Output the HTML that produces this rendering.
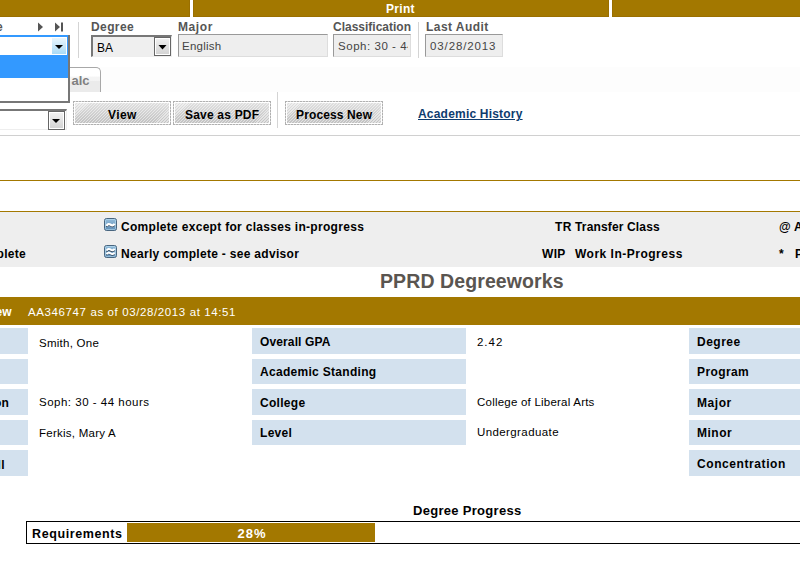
<!DOCTYPE html>
<html><head><meta charset="utf-8">
<style>
*{margin:0;padding:0;box-sizing:border-box}
html,body{width:800px;height:564px;overflow:hidden;background:#fff;font-family:"Liberation Sans",sans-serif;position:relative}
.a{position:absolute;white-space:nowrap}
.gold{background:#a37800}
.lbl{font-weight:bold;color:#555;font-size:12px;line-height:14px;letter-spacing:0.2px}
.inp{background:#eeeeee;border-top:1px solid #999;border-left:1px solid #999;border-right:1px solid #ddd;border-bottom:1px solid #ddd;overflow:hidden}
.it{font-size:12px;color:#444;line-height:14px}
.btn{padding:2px;background:repeating-linear-gradient(90deg,#b0b0b0 0 2px,#dadada 2px 3px) left top/100% 1px no-repeat,repeating-linear-gradient(90deg,#b0b0b0 0 2px,#dadada 2px 3px) left bottom/100% 1px no-repeat,repeating-linear-gradient(180deg,#b0b0b0 0 2px,#dadada 2px 3px) left top/1px 100% no-repeat,repeating-linear-gradient(180deg,#b0b0b0 0 2px,#dadada 2px 3px) right top/1px 100% no-repeat,#fff}
.btn>div{width:100%;height:100%;background:repeating-linear-gradient(135deg,rgba(255,255,255,.5) 0 0.8px,rgba(255,255,255,0) 0.8px 2.1px),linear-gradient(#e0e0e0,#c2c2c2)}
.bt{font-weight:bold;font-size:12px;color:#000;line-height:14px;letter-spacing:0.25px}
.cell{background:#d3e1ee}
.ct{font-weight:bold;font-size:12px;color:#000;line-height:14px;letter-spacing:0.3px}
.vt{font-size:12px;color:#000;line-height:14px}
.dd{border:1px solid #666;background:linear-gradient(#f2f2f2,#d2d2d2);box-shadow:inset 0 0 0 1px #fff}
</style></head><body>
<!-- top bar -->
<div class="a gold" style="left:0;top:0;width:190px;height:17px;border-right:1px solid #9a6f00;border-bottom:1px solid #9a6f00"></div>
<div class="a gold" style="left:193px;top:0;width:416px;height:17px;border:1px solid #9a6f00;border-top:none"></div>
<div class="a gold" style="left:612px;top:0;width:188px;height:17px;border-left:1px solid #9a6f00;border-bottom:1px solid #9a6f00"></div>
<div class="a" style="left:0;top:67px;width:800px;height:25px;background:#fdfdfd"></div>
<div class="a" style="left:386px;top:2px;font-weight:bold;font-size:12px;color:#fff;line-height:14px;letter-spacing:0.3px">Print</div>

<!-- row 2 labels -->
<div class="a lbl" style="left:-4px;top:20px">e</div>
<svg class="a" style="left:37px;top:21.5px" width="28" height="10"><path d="M1 0.5L6 5 1 9.5Z" fill="#555"/><path d="M18 0.5L23 5 18 9.5Z" fill="#555"/><rect x="24" y="0.5" width="2" height="9" fill="#555"/></svg>
<div class="a" style="left:78px;top:22px;width:1px;height:36px;background:#d4d4d4"></div>
<div class="a lbl" style="left:91px;top:20px;letter-spacing:0.4px">Degree</div>
<div class="a" style="left:91px;top:35px;width:81px;height:22px;background:#efefef;border-top:2px solid #777;border-left:2px solid #777;border-right:1px solid #eee;border-bottom:1px solid #eee"></div>
<div class="a" style="left:97px;top:41px;font-size:12px;color:#000;line-height:14px">BA</div>
<div class="a dd" style="left:154px;top:37px;width:17px;height:19px"></div>
<svg class="a" style="left:158px;top:45px" width="9" height="5"><path d="M0.5 0H8.5L4.5 4.5Z" fill="#000"/></svg>
<div class="a lbl" style="left:178px;top:20px;letter-spacing:0.6px">Major</div>
<div class="a inp" style="left:178px;top:34px;width:150px;height:23px"><div class="a it" style="left:3px;top:4px;font-size:11.5px;letter-spacing:0.25px">English</div></div>
<div class="a lbl" style="left:333px;top:20px;letter-spacing:0px">Classification</div>
<div class="a inp" style="left:333px;top:34px;width:78px;height:23px"><div class="a" style="left:0;top:0;width:74px;height:21px;overflow:hidden"><div class="a it" style="left:4px;top:4px;font-size:11.5px;letter-spacing:0.54px">Soph: 30 - 44 hours</div></div></div>
<div class="a" style="left:418px;top:22px;width:1px;height:36px;background:#d4d4d4"></div>
<div class="a lbl" style="left:426px;top:20px;letter-spacing:0.45px">Last Audit</div>
<div class="a inp" style="left:425px;top:34px;width:78px;height:23px"><div class="a it" style="left:4px;top:4px;font-size:11.5px;letter-spacing:0.88px">03/28/2013</div></div>

<!-- tab -->
<div class="a" style="left:60px;top:67px;width:41px;height:25px;border:1px solid #a8a8a8;border-bottom:none;border-top-right-radius:5px;background:linear-gradient(#ffffff 0,#ffffff 35%,#f4f4f4 36%,#f4f4f4 52%,#ebebeb 53%,#ebebeb 100%)"></div>
<div class="a" style="left:71.5px;top:73px;font-weight:bold;font-size:13px;color:#808080;line-height:16px">alc</div>

<!-- open combo -->
<div class="a" style="left:0;top:35px;width:70px;height:68px;background:#fff;border-right:2px solid #777;border-bottom:2px solid #777"></div>
<div class="a" style="left:0;top:35px;width:68px;height:2px;background:#3399ff"></div>
<div class="a" style="left:67px;top:35px;width:1px;height:20px;background:#3399ff"></div>
<div class="a" style="left:52px;top:38px;width:14px;height:16px;background:linear-gradient(#eaf6fd,#a9daf6)"></div>
<svg class="a" style="left:55px;top:45px" width="9" height="5"><path d="M0 0H8L4 4Z" fill="#000"/></svg>
<div class="a" style="left:0;top:55px;width:68px;height:23px;background:#3399ff"></div>

<!-- second select -->
<div class="a" style="left:0;top:109px;width:67px;height:21px;background:#fff;border-top:2px solid #777;border-right:1px solid #eee;border-bottom:1px solid #eee"></div>
<div class="a dd" style="left:48px;top:111px;width:17px;height:19px"></div>
<svg class="a" style="left:52px;top:119px" width="9" height="5"><path d="M0 0H8L4 4Z" fill="#000"/></svg>

<!-- buttons -->
<div class="a btn" style="left:73px;top:101px;width:98px;height:24px"><div></div></div>
<div class="a bt" style="left:108px;top:108px;letter-spacing:0.4px">View</div>
<div class="a btn" style="left:173px;top:101px;width:98px;height:24px"><div></div></div>
<div class="a bt" style="left:185px;top:108px;letter-spacing:0.2px">Save as PDF</div>
<div class="a" style="left:277px;top:92px;width:1px;height:36px;background:#d4d4d4"></div>
<div class="a btn" style="left:285px;top:101px;width:98px;height:24px"><div></div></div>
<div class="a bt" style="left:296px;top:108px;letter-spacing:0.13px">Process New</div>
<div class="a" style="left:418px;top:107px;font-weight:bold;font-size:12px;color:#0e3c6e;line-height:14px;letter-spacing:0.2px;text-decoration:underline">Academic History</div>

<div class="a" style="left:0;top:135px;width:800px;height:1px;background:#d0d0d0"></div>

<!-- gold lines -->
<div class="a gold" style="left:0;top:180px;width:800px;height:1px"></div>
<div class="a gold" style="left:0;top:211px;width:800px;height:1px"></div>

<!-- legend -->
<div class="a" style="left:0;top:212px;width:800px;height:55px;background:#eeeeee"></div>
<div class="a ct" style="left:-31px;top:247px">Complete</div>
<svg class="a" style="left:104px;top:218px" width="13" height="13">
<defs><linearGradient id="ig" x1="0" y1="0" x2="0" y2="1"><stop offset="0" stop-color="#94bddb"/><stop offset="1" stop-color="#5f8db6"/></linearGradient></defs>
<rect x="0.5" y="0.5" width="12" height="12" rx="2" fill="url(#ig)" stroke="#48657f"/>
<rect x="1.5" y="1.5" width="10" height="10" rx="1" fill="none" stroke="#bfe4f6" stroke-opacity=".55"/>
<path d="M2.6 8.9 C3.6 6.7 5.3 6.7 6.5 7.7 S9.4 8.9 10.6 6.7" stroke="#34475a" stroke-width="1.6" fill="none"/>
<path d="M2.6 7.9 C3.6 5.7 5.3 5.7 6.5 6.7 S9.4 7.9 10.6 5.7" stroke="#fff" stroke-width="2.3" fill="none"/>
</svg>
<svg class="a" style="left:104px;top:245px" width="13" height="13">
<rect x="0.5" y="0.5" width="12" height="12" rx="2" fill="url(#ig)" stroke="#48657f"/>
<rect x="1.5" y="1.5" width="10" height="10" rx="1" fill="none" stroke="#bfe4f6" stroke-opacity=".55"/>
<path d="M2.6 6.6 C3.6 4.6 5.3 4.6 6.5 5.6 S9.4 6.8 10.6 4.8" stroke="#34475a" stroke-width="1.4" fill="none"/>
<path d="M2.6 5.6 C3.6 3.6 5.3 3.6 6.5 4.6 S9.4 5.8 10.6 3.8" stroke="#fff" stroke-width="2" fill="none"/>
<path d="M2.6 10.3 C3.6 8.3 5.3 8.3 6.5 9.3 S9.4 10.5 10.6 8.5" stroke="#34475a" stroke-width="1.4" fill="none"/>
<path d="M2.6 9.3 C3.6 7.3 5.3 7.3 6.5 8.3 S9.4 9.5 10.6 7.5" stroke="#fff" stroke-width="2" fill="none"/>
</svg>
<div class="a ct" style="left:121px;top:220px">Complete except for classes in-progress</div>
<div class="a ct" style="left:121px;top:247px;letter-spacing:0.3px">Nearly complete - see advisor</div>
<div class="a ct" style="left:555px;top:220px">TR</div>
<div class="a ct" style="left:575px;top:220px;letter-spacing:0.15px">Transfer Class</div>
<div class="a ct" style="left:542px;top:247px">WIP</div>
<div class="a ct" style="left:575px;top:247px;letter-spacing:0.5px">Work In-Progress</div>
<div class="a ct" style="left:779px;top:220px">@</div>
<div class="a ct" style="left:794px;top:220px">Advice</div>
<div class="a ct" style="left:779px;top:247px">*</div>
<div class="a ct" style="left:795px;top:247px">Preregistered</div>

<!-- title -->
<div class="a" style="left:380px;top:270px;font-weight:bold;font-size:19.5px;color:#5a5550;line-height:22px;letter-spacing:0.1px">PPRD Degreeworks</div>

<!-- gold header -->
<div class="a gold" style="left:0;top:297px;width:800px;height:28px"></div>
<div class="a" style="left:-63.5px;top:305px;font-weight:bold;font-size:12px;color:#fff;line-height:14px">Student View</div>
<div class="a" style="left:28px;top:305px;font-size:11.5px;color:#fff;line-height:14px;letter-spacing:0.61px">AA346747 as of 03/28/2013 at 14:51</div>

<!-- table -->
<div class="a cell" style="left:0;top:328px;width:28px;height:26px"></div>
<div class="a cell" style="left:0;top:359px;width:28px;height:25px"></div>
<div class="a cell" style="left:0;top:389px;width:28px;height:26px"></div>
<div class="a cell" style="left:0;top:420px;width:28px;height:25px"></div>
<div class="a cell" style="left:0;top:450px;width:28px;height:26px"></div>
<div class="a ct" style="left:-73px;top:396px">Classification</div>
<div class="a ct" style="left:-38px;top:458px">Overall</div>

<div class="a vt" style="left:39px;top:336px;font-size:11.5px;letter-spacing:0.25px">Smith, One</div>
<div class="a vt" style="left:39px;top:395px;font-size:11.5px;letter-spacing:0.5px">Soph: 30 - 44 hours</div>
<div class="a vt" style="left:39px;top:426px;font-size:11.5px;letter-spacing:0.25px">Ferkis, Mary A</div>

<div class="a cell" style="left:252px;top:328px;width:214px;height:26px"></div>
<div class="a cell" style="left:252px;top:359px;width:214px;height:25px"></div>
<div class="a cell" style="left:252px;top:389px;width:214px;height:26px"></div>
<div class="a cell" style="left:252px;top:420px;width:214px;height:25px"></div>
<div class="a ct" style="left:260px;top:335px;letter-spacing:0.12px">Overall GPA</div>
<div class="a ct" style="left:260px;top:365px">Academic Standing</div>
<div class="a ct" style="left:260px;top:396px">College</div>
<div class="a ct" style="left:260px;top:426px">Level</div>

<div class="a vt" style="left:477px;top:335px;font-size:11.5px;letter-spacing:0.97px">2.42</div>
<div class="a vt" style="left:477px;top:395px;font-size:11.5px;letter-spacing:0.22px">College of Liberal Arts</div>
<div class="a vt" style="left:477px;top:425px;font-size:11.5px;letter-spacing:0.4px">Undergraduate</div>

<div class="a cell" style="left:689px;top:328px;width:111px;height:26px"></div>
<div class="a cell" style="left:689px;top:359px;width:111px;height:25px"></div>
<div class="a cell" style="left:689px;top:389px;width:111px;height:26px"></div>
<div class="a cell" style="left:689px;top:420px;width:111px;height:25px"></div>
<div class="a cell" style="left:689px;top:450px;width:111px;height:26px"></div>
<div class="a ct" style="left:697px;top:335px;letter-spacing:0.5px">Degree</div>
<div class="a ct" style="left:697px;top:365px;letter-spacing:0.4px">Program</div>
<div class="a ct" style="left:697px;top:396px;letter-spacing:0.55px">Major</div>
<div class="a ct" style="left:697px;top:426px;letter-spacing:0.5px">Minor</div>
<div class="a ct" style="left:697px;top:457px;letter-spacing:0.58px">Concentration</div>

<!-- progress -->
<div class="a" style="left:413px;top:503px;font-weight:bold;font-size:13px;color:#000;line-height:15px;letter-spacing:0.3px">Degree Progress</div>
<div class="a" style="left:26px;top:521px;width:800px;height:23px;border:1px solid #000"></div>
<div class="a" style="left:32px;top:527px;font-weight:bold;font-size:12.5px;color:#000;line-height:15px;letter-spacing:0.6px">Requirements</div>
<div class="a gold" style="left:127px;top:523px;width:248px;height:19px"></div>
<div class="a" style="left:128px;top:526px;width:248px;text-align:center;font-weight:bold;font-size:13px;color:#fff;line-height:15px;letter-spacing:1px">28%</div>
</body></html>
